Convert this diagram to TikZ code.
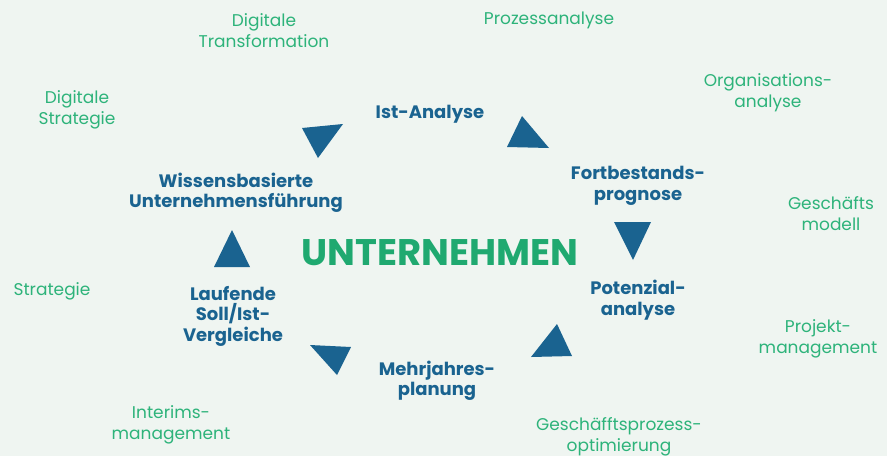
\documentclass[tikz,border=0pt]{standalone}
\usepackage{fontspec}
\setmainfont{Poppins}
\usetikzlibrary{calc}
\definecolor{bgmint}{HTML}{EFF5F1}
\definecolor{stepblue}{HTML}{1A6390}
\definecolor{leafgreen}{HTML}{2DB37A}
\definecolor{coregreen}{HTML}{1FA970}
\tikzset{phase/.style={align=center, text=stepblue, yshift=-3pt, font=\fontsize{18}{20.5}\selectfont\bfseries},
  topic/.style={align=center, text=leafgreen, yshift=-2pt, font=\fontsize{17}{21}\selectfont\mdseries},
  tri/.style={fill=stepblue}}

\begin{document}
\begin{tikzpicture}[x=1pt,y=-1pt]
  \fill[bgmint] (0,0) rectangle (887,456);
  \useasboundingbox (0,0) rectangle (887,456);
  % center
  \node[text=coregreen,yshift=-3pt,font=\fontsize{37}{37}\selectfont\bfseries] (core) at (440,250) {UNTERNEHMEN};
  % cycle
  \node[phase] (ist) at (430,111) {Ist-Analyse};
  \node[phase] (fort) at (638,183) {Fortbestands-\\prognose};
  \node[phase] (pot) at (638,297) {Potenzial-\\analyse};
  \node[phase] (mehr) at (437,378) {Mehrjahres-\\planung};
  \node[phase] (lauf) at (233,313) {Laufende\\Soll/Ist-\\Vergleiche};
  \node[phase] (wiss) at (236,190) {Wissensbasierte\\Unternehmensführung};
  % triangles
  \fill[tri] (302,128) -- (343,124) -- (318,158) -- cycle;
  \fill[tri] (522,116) -- (549,148) -- (507,147) -- cycle;
  \fill[tri] (614,222) -- (651,222) -- (633,260) -- cycle;
  \fill[tri] (557,324) -- (572,356) -- (531,357) -- cycle;
  \fill[tri] (310,345) -- (351,347) -- (337,375) -- cycle;
  \fill[tri] (232,230) -- (250,267) -- (214,267) -- cycle;
  % outer topics
  \node[topic] (digtrans) at (264,29) {Digitale\\Transformation};
  \node[topic] (prozess) at (549,18) {Prozessanalyse};
  \node[topic] (orga) at (768,91) {Organisations-\\analyse};
  \node[topic] (modell) at (831,212) {Geschäfts\\modell};
  \node[topic] (projekt) at (818,337) {Projekt-\\management};
  \node[topic] (gpo) at (619,435) {Geschäfftsprozess-\\optimierung};
  \node[topic] (interim) at (171,423) {Interims-\\management};
  \node[topic] (strat) at (52,289) {Strategie};
  \node[topic] (digstrat) at (77,108) {Digitale\\Strategie};
\end{tikzpicture}
\end{document}
